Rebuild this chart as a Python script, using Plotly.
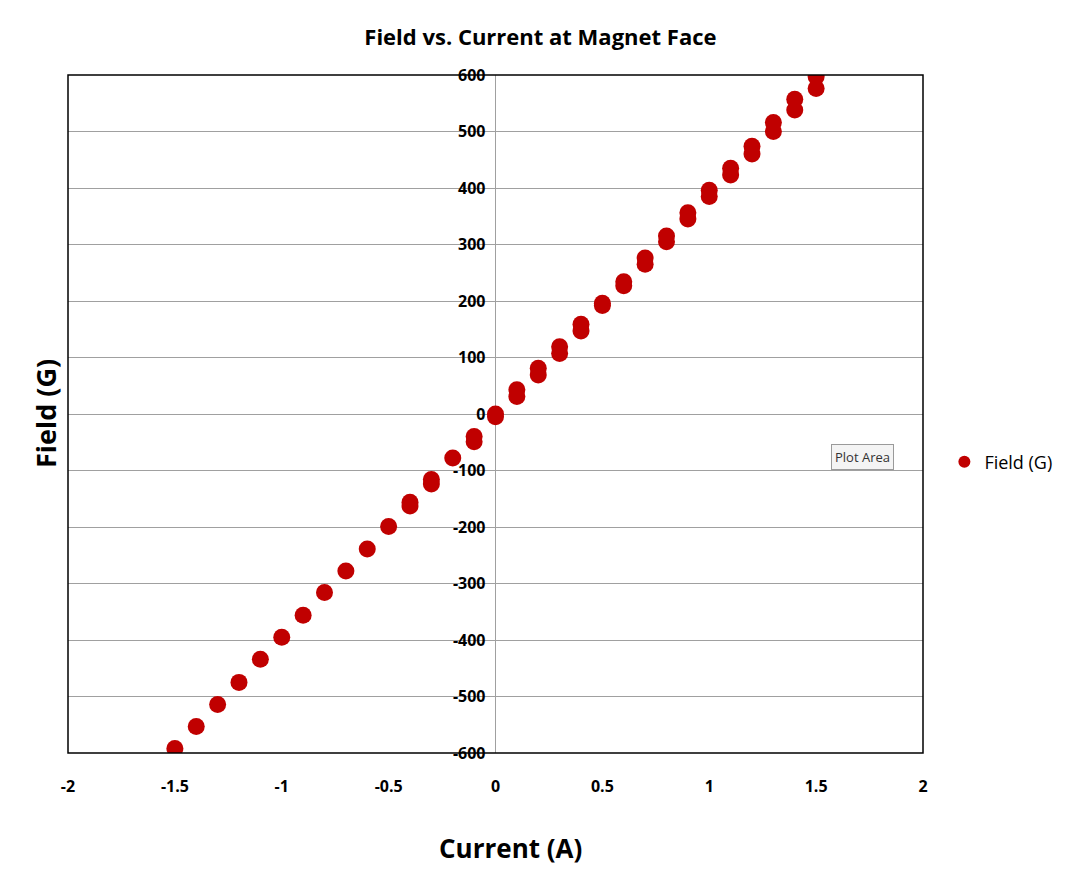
import plotly.graph_objects as go

# Data: current (A) and field (G); positive side measured twice
current = [-1.5, -1.4, -1.3, -1.2, -1.1, -1.0, -0.9, -0.8, -0.7, -0.6, -0.5, -0.4, -0.4, -0.3, -0.3,
           -0.2, -0.1, -0.1, 0.0, 0.0,
           0.1, 0.1, 0.2, 0.2, 0.3, 0.3, 0.4, 0.4, 0.5, 0.5, 0.6, 0.6, 0.7, 0.7, 0.8, 0.8,
           0.9, 0.9, 1.0, 1.0, 1.1, 1.1, 1.2, 1.2, 1.3, 1.3, 1.4, 1.4, 1.5, 1.5]
field = [-592, -553, -514, -475, -434, -395, -356, -316, -278, -239, -199, -163, -156, -124, -116,
         -78, -49, -40, -5, 0,
         43, 31, 81, 69, 119, 107, 159, 147, 196, 192, 234, 227, 276, 265, 315, 305,
         356, 345, 396, 385, 435, 423, 474, 460, 516, 500, 557, 538, 597, 576]

x_ticks = [-2, -1.5, -1, -0.5, 0, 0.5, 1, 1.5, 2]
x_tick_labels = ["-2", "-1.5", "-1", "-0.5", "0", "0.5", "1", "1.5", "2"]
y_ticks = [-600, -500, -400, -300, -200, -100, 0, 100, 200, 300, 400, 500, 600]
y_tick_labels = ["-600", "-500", "-400", "-300", "-200", "-100", "0", "100", "200", "300", "400", "500", "600"]

FONT = "Open Sans"
RED = "#C00000"

fig = go.Figure()
fig.add_trace(go.Scatter(
    x=current, y=field, mode="markers", name="Field (G)",
    marker=dict(color=RED, size=17, line=dict(width=0)),
))

fig.update_layout(
    width=1068, height=871,
    margin=dict(l=68, r=145, t=75, b=118, autoexpand=False),
    paper_bgcolor="white", plot_bgcolor="white",
    font=dict(family=FONT, color="black"),
    title=dict(text="<b>Field vs. Current at Magnet Face</b>", x=0.506, xref="container",
               xanchor="center", y=1 - 37 / 871, yref="container", yanchor="middle",
               font=dict(size=22, family=FONT, color="black")),
    showlegend=True,
    legend=dict(x=1.025, xref="paper", y=(753 - 462) / 678, yref="paper", yanchor="middle",
                xanchor="left", font=dict(size=18, family=FONT, color="black"),
                bgcolor="rgba(0,0,0,0)", itemsizing="constant"),
    xaxis=dict(range=[-2, 2], domain=[0, 1], tickvals=x_ticks,
               ticktext=["<b>%s</b>" % t for t in x_tick_labels],
               tickfont=dict(size=16, family=FONT, color="black"), showgrid=False,
               zeroline=True, zerolinecolor="#A0A0A0", zerolinewidth=1,
               showline=False, ticks="", ticklabelstandoff=22),
    yaxis=dict(range=[-600, 600], tickvals=y_ticks,
               ticktext=["<b>%s</b>" % t for t in y_tick_labels],
               tickfont=dict(size=16, family=FONT, color="black"),
               anchor="free", position=0.5, showgrid=True, gridcolor="#A0A0A0", gridwidth=1,
               zeroline=False, showline=False, ticks="", ticklabelstandoff=10),
    shapes=[dict(type="rect", xref="paper", yref="paper", x0=0, x1=1, y0=0, y1=1,
                 line=dict(color="black", width=1.5), layer="above")],
    annotations=[
        dict(text="<b>Current (A)</b>", xref="paper", yref="paper", x=(510 - 68) / 855,
             y=-(848 - 753) / 678, xanchor="center", yanchor="middle", showarrow=False,
             font=dict(size=26, family=FONT, color="black")),
        dict(text="<b>Field (G)</b>", xref="paper", yref="paper", x=-(68 - 45) / 855,
             y=0.5, xanchor="center", yanchor="middle", textangle=-90, showarrow=False,
             font=dict(size=27, family=FONT, color="black")),
        dict(text="Plot Area", xref="paper", yref="paper", x=(862 - 68) / 855,
             y=(753 - 457) / 678, xanchor="center", yanchor="middle", showarrow=False,
             font=dict(size=13, family=FONT, color="#333333"), bgcolor="#F4F4F4",
             bordercolor="#9A9A9A", borderwidth=1, borderpad=3),
    ],
)

fig.write_html("out.html")
